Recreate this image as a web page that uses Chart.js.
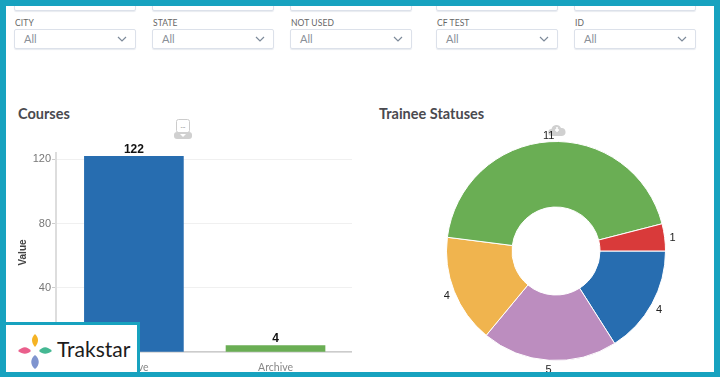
<!DOCTYPE html>
<html>
<head>
<meta charset="utf-8">
<script src="https://cdn.jsdelivr.net/npm/chart.js@4"></script>
<style>
    html, body { margin: 0; padding: 0; background: #fff; }
    #page { position: relative; width: 720px; height: 377px; overflow: hidden; font-family: Lato, sans-serif; }
    #page canvas { position: absolute; }
    .frame { position: absolute; left: 0; top: 0; width: 720px; height: 377px; box-sizing: border-box; border: solid #17a2bf; border-width: 6px 6px 5px 6px; z-index: 5; }
    .filter-label { position: absolute; top: 18px; font-size: 8.5px; color: #666; letter-spacing: 0.1px; }
    .select { position: absolute; top: 29px; width: 122px; height: 20px; box-sizing: border-box; border: 1px solid #dce1ea; border-radius: 2px; font-size: 11px; color: #8a8f98; line-height: 18px; padding-left: 9px; box-shadow: 0 1px 1px #e8ebf0; }
    .select svg { position: absolute; right: 8px; top: 6px; }
    .stub { position: absolute; top: -8px; width: 122px; height: 19px; box-sizing: border-box; border: 1px solid #dce1ea; border-radius: 2px; box-shadow: 0 1px 1px #e8ebf0; }
    .title { position: absolute; top: 105px; font-size: 14.5px; font-weight: 700; color: #4a4a4f; }
    .icon { position: absolute; }
    .logo { position: absolute; left: 6px; top: 322px; width: 134px; height: 50px; box-sizing: border-box; background: #fff; border-top: 3px solid #17a2bf; border-right: 3px solid #17a2bf; z-index: 6; }
    .logo svg { position: absolute; left: 9px; top: 5px; }
    .logo span { position: absolute; left: 51px; top: 10px; font-size: 21px; line-height: 28px; color: #1c1c1c; }
</style>
</head>
<body>
<div id="page">
    <div id="filters"></div>
    <div class="title" style="left:18px">Courses</div>
    <div class="title" style="left:379px">Trainee Statuses</div>

    <svg class="icon" style="left:174px;top:119px" width="18" height="22" viewBox="0 0 18 22">
        <rect x="2.5" y="0.5" width="13" height="13" rx="2" fill="#fff" stroke="#ccc"/>
        <text x="9" y="9" font-size="7" fill="#888" text-anchor="middle">...</text>
        <rect x="0" y="13" width="18" height="7" rx="3" fill="#d0d0d0"/>
        <path d="M6 15h6l-3 3z" fill="#fff"/>
    </svg>
    <svg class="icon" style="left:548px;top:123px" width="18" height="14" viewBox="0 0 18 14">
        <path d="M4 13a3.5 3.5 0 0 1-.5-7A5 5 0 0 1 13 5a4 4 0 0 1 1 8z" fill="#d0d0d0"/>
        <path d="M9 4v5M7 7h4" stroke="#fff" stroke-width="1.5"/>
    </svg>

    <canvas id="coursesChart" style="left:10px;top:130px;width:342px;height:247px"></canvas>
    <canvas id="statusChart" style="left:426px;top:121px;width:260px;height:260px"></canvas>

    <div class="logo">
        <svg width="40" height="40" viewBox="0 0 40 40">
            <path d="M20 4c-4 4-4 8 0 13c4-5 4-9 0-13z" fill="#f5b324"/>
            <path d="M20 25c-5 4-5 10 0 14c5-4 5-10 0-14z" fill="#7f94cf"/>
            <path d="M3 21c5-5 9-5 13 0c-4 3.500-8 3.500-13 0z" fill="#ea5f8c"/>
            <path d="M37 21c-5-5-9-5-13 0c4 3.500 8 3.500 13 0z" fill="#45b893"/>
        </svg>
        <span>Trakstar</span>
    </div>
    <div class="frame"></div>
</div>

<script>
    const filterNames = ["CITY", "STATE", "NOT USED", "CF TEST", "ID"];
    const filterValue = "All";

    const courseCategories = ["Active", "Archive"];
    const courseValues = [122, 4];
    const courseTicks = [0, 40, 80, 120];

    const statusNames = ["Status 1", "Status 2", "Status 3", "Status 4", "Status 5"];
    const statusValues = [4, 5, 4, 11, 1];

    const courseColors = ["#276db0", "#6aae54"];
    const statusColors = ["#276db0", "#bc8dbf", "#f0b44e", "#6aae54", "#d93a3a"];

    const filterLefts = [15, 153, 291, 437, 575];
    const filters = document.getElementById("filters");
    filterNames.forEach((name, i) => {
        const left = filterLefts[i];
        filters.innerHTML +=
            `<div class="stub" style="left:${left - 1}px"></div>` +
            `<div class="filter-label" style="left:${left}px">${name}</div>` +
            `<div class="select" style="left:${left - 1}px">${filterValue}` +
            `<svg width="10" height="6" viewBox="0 0 10 6"><path d="M1 1l4 4l4-4" fill="none" stroke="#7d8a9a" stroke-width="1.2"/></svg></div>`;
    });

    // value on top of each bar
    const barLabels = {
        id: "barLabels",
        afterDatasetsDraw(chart) {
            const ctx = chart.ctx;
            ctx.save();
            ctx.font = "bold 12px 'Liberation Sans', sans-serif";
            ctx.fillStyle = "#111";
            ctx.textAlign = "center";
            ctx.textBaseline = "bottom";
            chart.getDatasetMeta(0).data.forEach((bar, i) => {
                ctx.fillText(courseValues[i], bar.x, bar.y - 1);
            });
            ctx.restore();
        },
    };

    // value just outside each slice
    const sliceLabels = {
        id: "sliceLabels",
        afterDatasetsDraw(chart) {
            const ctx = chart.ctx;
            ctx.save();
            ctx.font = "11px 'Liberation Sans', sans-serif";
            ctx.fillStyle = "#222";
            ctx.textAlign = "center";
            ctx.textBaseline = "middle";
            chart.getDatasetMeta(0).data.forEach((arc, i) => {
                const mid = (arc.startAngle + arc.endAngle) / 2;
                const r = arc.outerRadius + 8;
                ctx.fillText(statusValues[i], arc.x + Math.cos(mid) * r, arc.y + Math.sin(mid) * r + 2);
            });
            ctx.restore();
        },
    };

    new Chart(document.getElementById("coursesChart"), {
        type: "bar",
        data: {
            datasets: [{
                data: courseValues.map((v, i) => ({ x: i, y: v })),
                backgroundColor: courseColors,
                barThickness: 99,
            }],
        },
        options: {
            responsive: false,
            animation: false,
            layout: { padding: { top: 23, left: 7 } },
            plugins: { legend: { display: false }, tooltip: { enabled: false } },
            scales: {
                x: {
                    type: "linear",
                    offset: false,
                    min: -0.55,
                    max: 1.54,
                    afterBuildTicks: (axis) => { axis.ticks = courseCategories.map((c, i) => ({ value: i })); },
                    afterFit: (axis) => { axis.height = 25; },
                    grid: { display: false },
                    border: { color: "#ccc", width: 1.5 },
                    ticks: {
                        autoSkip: false,
                        maxRotation: 0,
                        padding: 1,
                        color: "#888",
                        font: { family: "Lato", size: 10.5 },
                        callback: (value) => courseCategories[value],
                    },
                },
                y: {
                    min: 0,
                    max: 124,
                    afterBuildTicks: (axis) => { axis.ticks = courseTicks.map((t) => ({ value: t })); },
                    afterFit: (axis) => { axis.width = 39; },
                    grid: { color: "#f0f0f0", tickColor: "#ccc", tickLength: 4 },
                    border: { color: "#ddd", width: 2 },
                    ticks: { color: "#777", padding: 1, font: { family: "Liberation Sans", size: 11 } },
                    title: {
                        display: true,
                        text: "Value",
                        color: "#444",
                        padding: 0,
                        font: { family: "Liberation Sans", size: 10, weight: "bold" },
                    },
                },
            },
        },
        plugins: [barLabels],
    });

    new Chart(document.getElementById("statusChart"), {
        type: "doughnut",
        data: {
            labels: statusNames,
            datasets: [{
                data: statusValues,
                backgroundColor: statusColors,
                borderColor: "#fff",
                borderWidth: 1,
            }],
        },
        options: {
            responsive: false,
            animation: false,
            rotation: 90,
            cutout: 44,
            layout: { padding: 20 },
            plugins: { legend: { display: false }, tooltip: { enabled: false } },
        },
        plugins: [sliceLabels],
    });
</script>
</body>
</html>
